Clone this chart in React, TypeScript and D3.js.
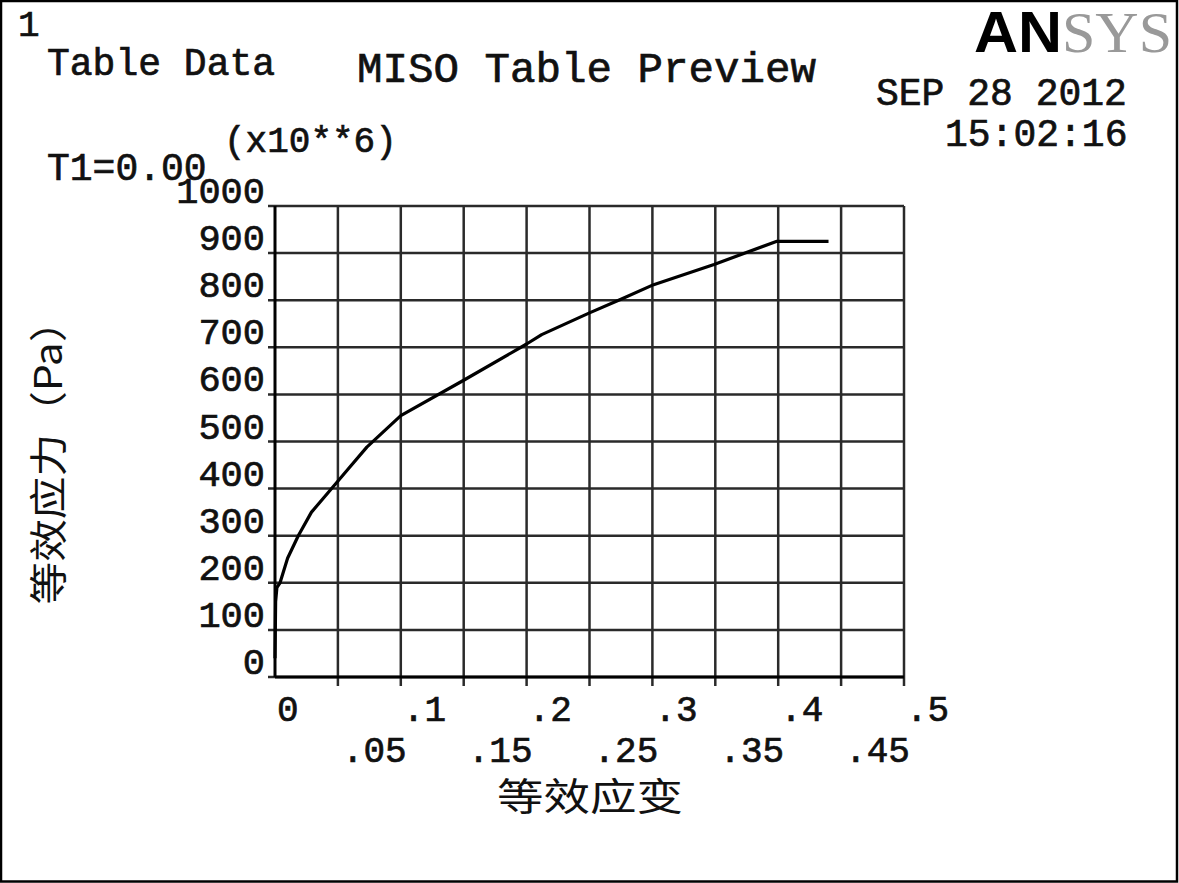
import React from "react";
import * as d3 from "d3";

const strainValues = [0, 0.0005, 0.0015, 0.004, 0.01, 0.0185, 0.029, 0.044, 0.058, 0.073, 0.1, 0.15, 0.2, 0.212, 0.25, 0.275, 0.301, 0.349, 0.399, 0.44];
const stressValues = [40, 160, 190, 200, 252, 300, 350, 397, 441, 488, 555, 630, 707, 727, 773, 802, 833, 876, 925, 925];

const xTicksRow1 = [0, 0.1, 0.2, 0.3, 0.4, 0.5];
const xTickLabelsRow1 = ["0", ".1", ".2", ".3", ".4", ".5"];
const xTicksRow2 = [0.05, 0.15, 0.25, 0.35, 0.45];
const xTickLabelsRow2 = [".05", ".15", ".25", ".35", ".45"];
const xGrid = [0.05, 0.1, 0.15, 0.2, 0.25, 0.3, 0.35, 0.4, 0.45, 0.5];
const yTicks = [0, 100, 200, 300, 400, 500, 600, 700, 800, 900, 1000];
const yTickLabels = ["0", "100", "200", "300", "400", "500", "600", "700", "800", "900", "1000"];

const W = 1179;
const H = 883;
const MONO = "'Liberation Mono', 'DejaVu Sans Mono', monospace";
const CJK = "'Noto Sans CJK SC', sans-serif";

export default function App() {
  const x = d3.scaleLinear().domain([0, 0.5]).range([275, 904]);
  const y = d3.scaleLinear().domain([0, 1000]).range([677, 206]);
  const pts = strainValues.map((s, i) => [s, stressValues[i]] as [number, number]);
  const line = d3
    .line<[number, number]>()
    .x((d) => x(d[0]))
    .y((d) => y(d[1]));
  const gridColor = "#2a2a2a";
  const monoText = { fontFamily: MONO, fill: "#111", stroke: "#111", strokeWidth: 0.7 } as const;

  return (
    <svg
      width={W}
      height={H}
      viewBox={`0 0 ${W} ${H}`}
      style={{ position: "absolute", left: 0, top: 0, background: "#fff" }}
    >
      <rect x={0} y={0} width={W} height={H} fill="#fff" />
      <rect x={1} y={1} width={W - 3} height={H - 2.5} fill="none" stroke="#000" strokeWidth={2.5} />

      {/* header texts */}
      <text x={18} y={36} fontSize={36} {...monoText}>1</text>
      <text x={47} y={75} fontSize={38} {...monoText}>Table Data</text>
      <text x={357} y={82} fontSize={42.5} {...monoText}>MISO Table Preview</text>
      <text x={876} y={105} fontSize={38} {...monoText}>SEP 28 2012</text>
      <text x={945} y={146} fontSize={38} {...monoText}>15:02:16</text>
      <text x={224} y={152} fontSize={36} {...monoText}>(x10**6)</text>
      <text x={47} y={180} fontSize={38} {...monoText}>T1=0.00</text>

      {/* ANSYS logo */}
      <text x={974} y={52} fontSize={58} fontFamily="'Liberation Sans', Arial, sans-serif" fontWeight="900" fill="#000" textLength={88} lengthAdjust="spacingAndGlyphs">AN</text>
      <text x={1062} y={52} fontSize={58} fontFamily="'Liberation Serif', 'Times New Roman', serif" fill="#999" textLength={110} lengthAdjust="spacingAndGlyphs">SYS</text>

      {/* grid: horizontal */}
      {yTicks.map((t) => (
        <line key={"h" + t} x1={268} x2={x(0.5)} y1={y(t)} y2={y(t)} stroke={gridColor} strokeWidth={2.5} />
      ))}
      {/* grid: vertical */}
      {xGrid.map((t) => (
        <line key={"v" + t} x1={x(t)} x2={x(t)} y1={y(1000)} y2={y(0) + 9} stroke={gridColor} strokeWidth={2.5} />
      ))}
      {/* axes */}
      <line x1={x(0)} x2={x(0)} y1={y(1000)} y2={y(0)} stroke="#000" strokeWidth={3} />
      <line x1={x(0)} x2={x(0.5)} y1={y(0)} y2={y(0)} stroke="#000" strokeWidth={3} />

      {/* curve */}
      <path d={line(pts) || ""} fill="none" stroke="#000" strokeWidth={3.2} strokeLinejoin="round" />

      {/* y tick labels */}
      {yTicks.map((t, i) => (
        <text key={"yl" + t} x={265} y={y(t) - 3} fontSize={37} textAnchor="end" {...monoText}>
          {yTickLabels[i]}
        </text>
      ))}
      {/* x tick labels */}
      {xTicksRow1.map((t, i) => (
        <text key={"x1" + t} x={x(t) + 2} y={721} fontSize={36} {...monoText}>
          {xTickLabelsRow1[i]}
        </text>
      ))}
      {xTicksRow2.map((t, i) => (
        <text key={"x2" + t} x={x(t) + 4} y={762} fontSize={36} {...monoText}>
          {xTickLabelsRow2[i]}
        </text>
      ))}

      {/* axis titles */}
      <text x={590} y={810} fontSize={38} fontFamily={CJK} textAnchor="middle" fill="#111" textLength={186} lengthAdjust="spacingAndGlyphs">
        等效应变
      </text>
      <text
        transform="translate(62,452) rotate(-90)"
        fontSize={38}
        fontFamily={CJK}
        textAnchor="middle"
        fill="#111"
        textLength={305}
        lengthAdjust="spacingAndGlyphs"
      >
        等效应力（Pa）
      </text>
    </svg>
  );
}
